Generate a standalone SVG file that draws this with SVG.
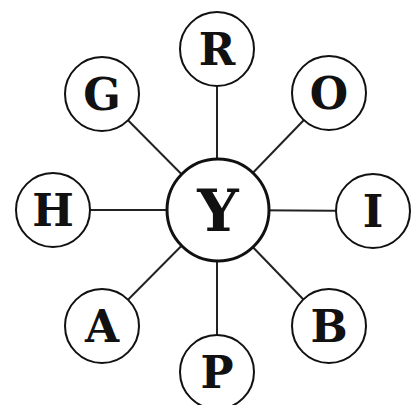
<svg xmlns="http://www.w3.org/2000/svg" width="411" height="405" viewBox="0 0 411 405">
<style>
.edge{stroke:#222;stroke-width:2;fill:none}
.n circle{fill:#fff;stroke:#111;stroke-width:2}
.n text{font-family:"DejaVu Serif","Liberation Serif",serif;font-weight:bold;font-size:44px;fill:#111;text-anchor:middle}
#Y circle{stroke-width:3}
#Y text{font-size:58px}
</style>
<rect width="411" height="405" fill="#fff"/>
<g id="edges">
<line class="edge" x1="217" y1="210" x2="217" y2="50"/>
<line class="edge" x1="217" y1="210" x2="329" y2="94"/>
<line class="edge" x1="217" y1="210" x2="373" y2="211"/>
<line class="edge" x1="217" y1="210" x2="329" y2="326"/>
<line class="edge" x1="217" y1="210" x2="217" y2="372"/>
<line class="edge" x1="217" y1="210" x2="102" y2="326"/>
<line class="edge" x1="217" y1="210" x2="53" y2="210"/>
<line class="edge" x1="217" y1="210" x2="102" y2="94"/>
</g>
<g id="Y" class="n"><circle cx="218" cy="210" r="51"/><text x="218" y="231">Y</text></g>
<g id="R" class="n"><circle cx="217" cy="49" r="37"/><text x="217" y="65">R</text></g>
<g id="O" class="n"><circle cx="329" cy="93" r="37"/><text x="329" y="109">O</text></g>
<g id="I" class="n"><circle cx="373" cy="211" r="37"/><text x="373" y="227">I</text></g>
<g id="B" class="n"><circle cx="329" cy="326" r="37"/><text x="329" y="342">B</text></g>
<g id="P" class="n"><circle cx="217" cy="372" r="37"/><text x="217" y="388">P</text></g>
<g id="A" class="n"><circle cx="102" cy="326" r="37"/><text x="102" y="342">A</text></g>
<g id="H" class="n"><circle cx="53" cy="210" r="37"/><text x="53" y="226">H</text></g>
<g id="G" class="n"><circle cx="102" cy="94" r="37"/><text x="102" y="110">G</text></g>
</svg>
